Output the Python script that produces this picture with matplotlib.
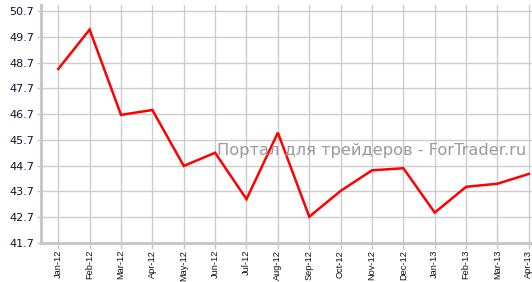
import matplotlib
matplotlib.use("Agg")
import matplotlib.pyplot as plt
import numpy as np

months = ["Jan-12", "Feb-12", "Mar-12", "Apr-12", "May-12", "Jun-12", "Jul-12", "Aug-12",
          "Sep-12", "Oct-12", "Nov-12", "Dec-12", "Jan-13", "Feb-13", "Mar-13", "Apr-13"]
values = [48.45, 49.98, 46.67, 46.86, 44.69, 45.2, 43.4, 45.98,
          42.72, 43.72, 44.52, 44.6, 42.88, 43.88, 44.0, 44.38]
yticks = [41.7, 42.7, 43.7, 44.7, 45.7, 46.7, 47.7, 48.7, 49.7, 50.7]
watermark = "Портал для трейдеров - ForTrader.ru"

fig = plt.figure(figsize=(5.32, 2.82), dpi=100)
ax = fig.add_axes([41/532, 1 - 243/282, 1 - 41/532, (243 - 5)/282])

x = np.arange(len(months))
ax.plot(x, values, color="#ff0000", lw=1.8, zorder=3, solid_joinstyle="miter")

ax.set_xlim(-0.55, len(months) - 1 + 0.1)
ax.set_ylim(41.7, 50.7 + 6/25.8)
ax.set_yticks(yticks)
ax.set_yticklabels([f"{v:.1f}" for v in yticks], fontsize=8, color="#111133")
ax.set_xticks(x)
ax.set_xticklabels(months, rotation=90, fontsize=6.7, color="#111111",
                   family="Liberation Sans")

ax.grid(True, color="#cccccc", lw=1.0, zorder=0)
for s in ["top", "right"]:
    ax.spines[s].set_visible(False)
for s in ["left", "bottom"]:
    ax.spines[s].set_color("#c8c8c8")
    ax.spines[s].set_linewidth(2.2)
ax.tick_params(axis="y", length=3, width=1, color="#c8c8c8", pad=2)
ax.tick_params(axis="x", length=4, width=1, color="#c8c8c8", pad=1)

fig.text(217/532, 1 - 150/282, watermark, fontsize=11.7, color="#a09898",
         ha="left", va="center", zorder=5)

fig.savefig("out.png", dpi=100)
